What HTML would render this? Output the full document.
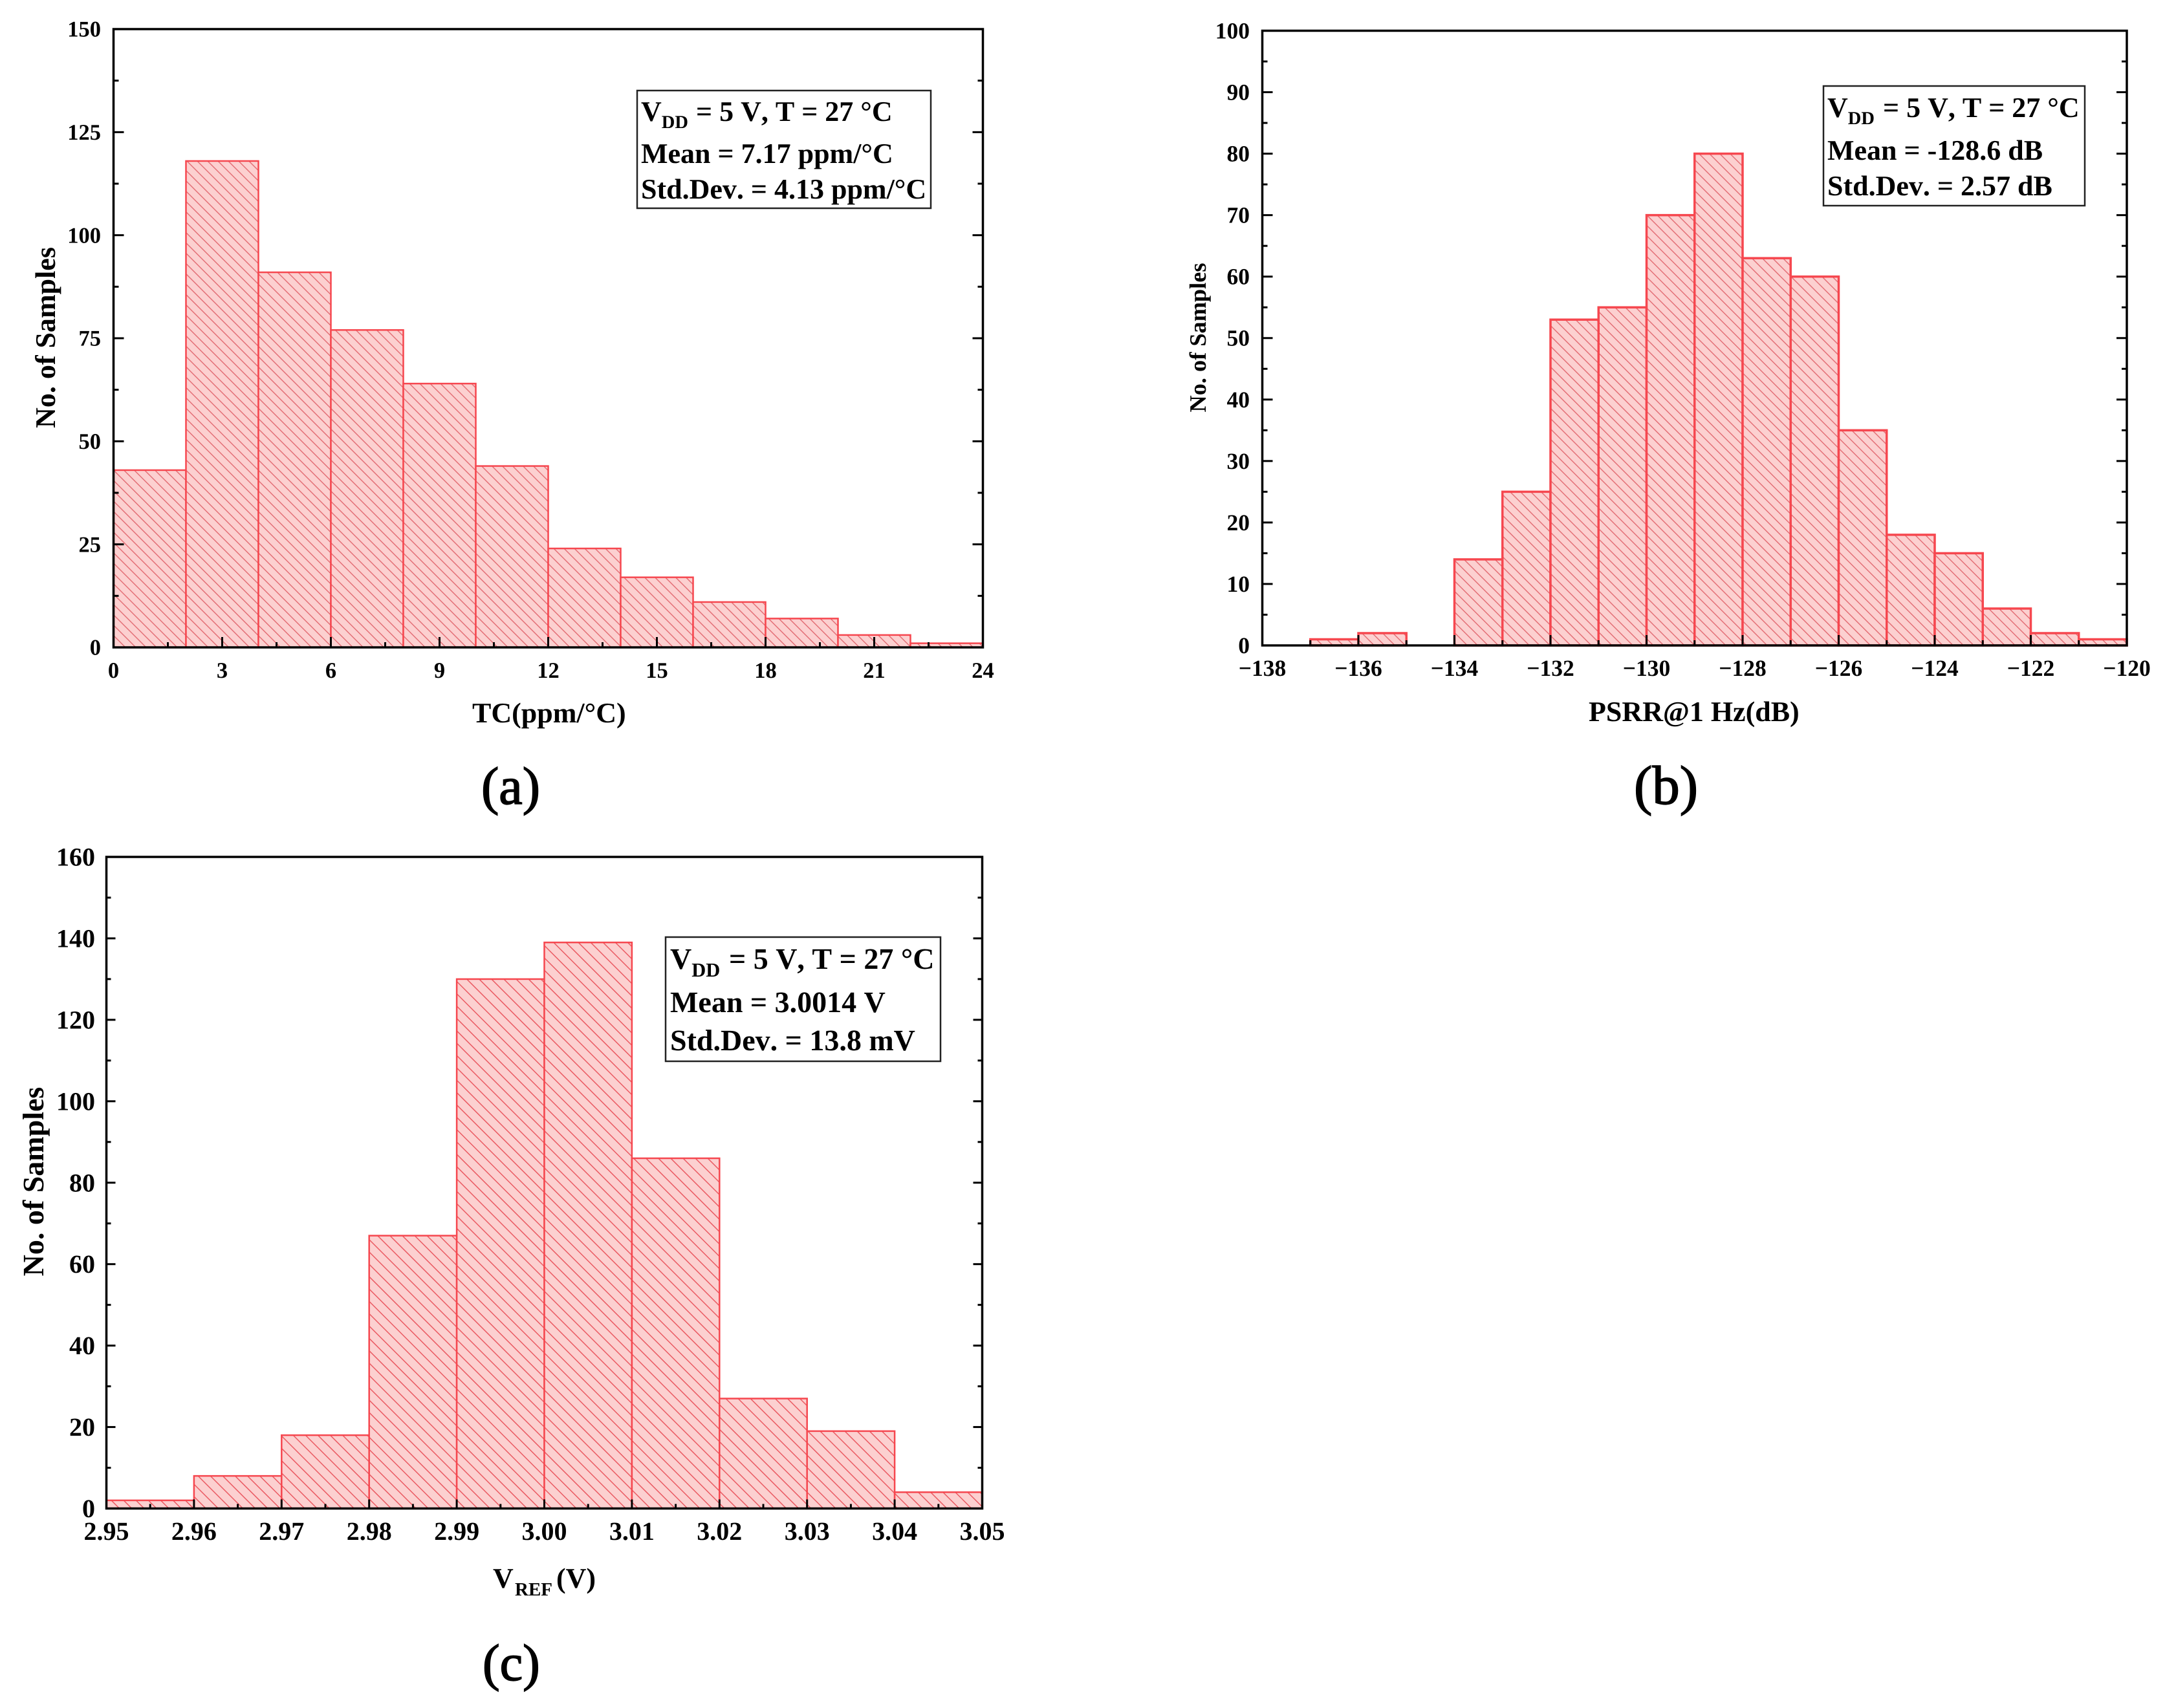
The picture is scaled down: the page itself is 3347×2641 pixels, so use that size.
<!DOCTYPE html>
<html lang="en">
<head>
<meta charset="utf-8">
<title>Monte Carlo histograms of TC, PSRR and VREF</title>
<style>
html,body{margin:0;padding:0;background:#fff;}
svg{display:block;}
text{font-family:"Liberation Serif",serif;fill:#000;font-kerning:none;text-rendering:geometricPrecision;}
.bold{font-weight:700;}
.panel{stroke:#000;stroke-width:1.6;}
</style>
</head>
<body>
<svg id="figure" xmlns="http://www.w3.org/2000/svg" width="3347" height="2641" viewBox="0 0 3347 2641">
<defs>
<pattern id="hatch-a" patternUnits="userSpaceOnUse" width="11.3" height="11.3" patternTransform="rotate(45)"><rect width="11.3" height="11.3" fill="#fcd0d0"/><rect y="5" width="11.3" height="1.4" fill="#e26a72"/></pattern>
<pattern id="hatch-b" patternUnits="userSpaceOnUse" width="11.3" height="11.3" patternTransform="rotate(45)"><rect width="11.3" height="11.3" fill="#fcd0d0"/><rect y="5" width="11.3" height="1.4" fill="#e26a72"/></pattern>
<pattern id="hatch-c" patternUnits="userSpaceOnUse" width="13.5" height="13.5" patternTransform="rotate(45)"><rect width="13.5" height="13.5" fill="#fcd0d0"/><rect y="6" width="13.5" height="1.5" fill="#ea5a62"/></pattern>
</defs>
<rect width="3347" height="2641" fill="#fff"/>

<g id="chart-a"></g>
<g id="chart-b"></g>
<g id="chart-c"></g>

<!-- Chart (a) text -->
<text class="bold" font-size="44" text-anchor="middle" transform="translate(85,522) rotate(-90)">No. of Samples</text>
<text class="bold" font-size="44" x="730" y="1117">TC(ppm/°C)</text>
<text class="panel" font-size="82" x="744" y="1243">(a)</text>
<g>
<rect x="985" y="140" width="454" height="182" fill="#fff" stroke="#222" stroke-width="2.5"/>
<text class="bold" font-size="44" x="991" y="187">V<tspan font-size="28.5" dy="11">DD</tspan><tspan x="1076" dy="-11">= 5 V, T = 27 °C</tspan></text>
<text class="bold" font-size="44" x="991" y="252">Mean = 7.17 ppm/°C</text>
<text class="bold" font-size="44" x="991" y="307">Std.Dev. = 4.13 ppm/°C</text>
</g>

<!-- Chart (b) text -->
<text class="bold" font-size="36.3" text-anchor="middle" transform="translate(1864,522) rotate(-90)">No. of Samples</text>
<text class="bold" font-size="44" x="2456" y="1115">PSRR@1 Hz(dB)</text>
<text class="panel" font-size="85" x="2526" y="1243">(b)</text>
<g>
<rect x="2819" y="133" width="404" height="185" fill="#fff" stroke="#222" stroke-width="2.5"/>
<text class="bold" font-size="44" x="2825" y="181">V<tspan font-size="28.5" dy="11">DD</tspan><tspan x="2911" dy="-11">= 5 V, T = 27 °C</tspan></text>
<text class="bold" font-size="44" x="2825" y="247">Mean = -128.6 dB</text>
<text class="bold" font-size="44" x="2825" y="302">Std.Dev. = 2.57 dB</text>
</g>

<!-- Chart (c) text -->
<text class="bold" font-size="46" text-anchor="middle" transform="translate(67,1827) rotate(-90)">No. of Samples</text>
<text class="bold" font-size="44" x="762" y="2455">V<tspan font-size="29" x="796" dy="12">REF</tspan><tspan font-size="44" x="860" dy="-12">(V)</tspan></text>
<text class="panel" font-size="80" x="746" y="2598">(c)</text>
<g>
<rect x="1029" y="1449" width="425" height="192" fill="#fff" stroke="#222" stroke-width="2.5"/>
<text class="bold" font-size="46" x="1036" y="1498">V<tspan font-size="30.5" dy="12">DD</tspan><tspan x="1127" dy="-12">= 5 V, T = 27 °C</tspan></text>
<text class="bold" font-size="46" x="1036" y="1565">Mean = 3.0014 V</text>
<text class="bold" font-size="46" x="1036" y="1624">Std.Dev. = 13.8 mV</text>
</g>
</svg>

<script>
// ---- Chart (a): TC histogram data ----
const tcBinStarts = [0, 2, 4, 6, 8, 10, 12, 14, 16, 18, 20, 22];
const tcCounts = [43, 118, 91, 77, 64, 44, 24, 17, 11, 7, 3, 1];
const tcXTicks = [0, 3, 6, 9, 12, 15, 18, 21, 24];
const tcXTickLabels = ["0", "3", "6", "9", "12", "15", "18", "21", "24"];
const tcXMinorTicks = [1.5, 4.5, 7.5, 10.5, 13.5, 16.5, 19.5, 22.5];
const tcYTicks = [0, 25, 50, 75, 100, 125, 150];
const tcYTickLabels = ["0", "25", "50", "75", "100", "125", "150"];
const tcYMinorTicks = [12.5, 37.5, 62.5, 87.5, 112.5, 137.5];

// ---- Chart (b): PSRR histogram data ----
const psrrBinStarts = [-137, -136, -135, -134, -133, -132, -131, -130, -129, -128, -127, -126, -125, -124, -123, -122, -121];
const psrrCounts = [1, 2, 0, 14, 25, 53, 55, 70, 80, 63, 60, 35, 18, 15, 6, 2, 1];
const psrrXTicks = [-138, -136, -134, -132, -130, -128, -126, -124, -122, -120];
const psrrXTickLabels = ["\u2212138", "\u2212136", "\u2212134", "\u2212132", "\u2212130", "\u2212128", "\u2212126", "\u2212124", "\u2212122", "\u2212120"];
const psrrXMinorTicks = [-137, -135, -133, -131, -129, -127, -125, -123, -121];
const psrrYTicks = [0, 10, 20, 30, 40, 50, 60, 70, 80, 90, 100];
const psrrYTickLabels = ["0", "10", "20", "30", "40", "50", "60", "70", "80", "90", "100"];
const psrrYMinorTicks = [5, 15, 25, 35, 45, 55, 65, 75, 85, 95];

// ---- Chart (c): VREF histogram data ----
const vrefBinStarts = [2.95, 2.96, 2.97, 2.98, 2.99, 3.00, 3.01, 3.02, 3.03, 3.04];
const vrefCounts = [2, 8, 18, 67, 130, 139, 86, 27, 19, 4];
const vrefXTicks = [2.95, 2.96, 2.97, 2.98, 2.99, 3.00, 3.01, 3.02, 3.03, 3.04, 3.05];
const vrefXTickLabels = ["2.95", "2.96", "2.97", "2.98", "2.99", "3.00", "3.01", "3.02", "3.03", "3.04", "3.05"];
const vrefXMinorTicks = [2.955, 2.965, 2.975, 2.985, 2.995, 3.005, 3.015, 3.025, 3.035, 3.045];
const vrefYTicks = [0, 20, 40, 60, 80, 100, 120, 140, 160];
const vrefYTickLabels = ["0", "20", "40", "60", "80", "100", "120", "140", "160"];
const vrefYMinorTicks = [10, 30, 50, 70, 90, 110, 130, 150];

const SVG_NS = "http://www.w3.org/2000/svg";

function shape(parent, tag, attrs) {
  const el = document.createElementNS(SVG_NS, tag);
  for (const k in attrs) el.setAttribute(k, attrs[k]);
  parent.appendChild(el);
  return el;
}

function drawHistogram(o) {
  const root = document.getElementById(o.id);
  const xScale = v => o.left + (v - o.xMin) / (o.xMax - o.xMin) * (o.right - o.left);
  const yScale = v => o.bottom - (v - o.yMin) / (o.yMax - o.yMin) * (o.bottom - o.top);

  // bars
  o.binStarts.forEach((start, i) => {
    if (o.counts[i] === 0) return;
    const x0 = xScale(start);
    const x1 = xScale(start + o.binWidth);
    const y = yScale(o.counts[i]);
    const bar = shape(root, "rect", {
      x: x0, y: y, width: x1 - x0, height: yScale(0) - y,
      fill: "url(#" + o.hatch + ")", stroke: "#f6474f", "stroke-width": o.barStroke
    });
    
    
  });

  // plot frame
  const frame = shape(root, "rect", {
    x: o.left, y: o.top, width: o.right - o.left, height: o.bottom - o.top,
    fill: "none", stroke: "#000", "stroke-width": o.axisWidth
  });
  
  

  // x ticks
  o.xTicks.forEach((v, i) => {
    const x = xScale(v);
    const tick = shape(root, "line", { x1: x, x2: x, y1: o.bottom, y2: o.bottom - o.majorLen, stroke: "#000", "stroke-width": 3 });
    
    
    const label = shape(root, "text", { x: x, y: o.xLabelY, "font-size": o.tickFont, "text-anchor": "middle", "font-weight": 700 });
    label.textContent = o.xLabels[i];
    
    
  });
  o.xMinor.forEach(v => {
    const x = xScale(v);
    const tick = shape(root, "line", { x1: x, x2: x, y1: o.bottom, y2: o.bottom - o.minorLen, stroke: "#000", "stroke-width": 3 });
    
    
  });

  // y ticks (left and right sides)
  o.yTicks.forEach((v, i) => {
    const y = yScale(v);
    const left = shape(root, "line", { x1: o.left, x2: o.left + o.majorLen, y1: y, y2: y, stroke: "#000", "stroke-width": 3 });
    
    
    const right = shape(root, "line", { x1: o.right, x2: o.right - o.majorLen, y1: y, y2: y, stroke: "#000", "stroke-width": 3 });
    
    
    const label = shape(root, "text", { x: o.yLabelX, y: y + o.tickFont * 0.338, "font-size": o.tickFont, "text-anchor": "end", "font-weight": 700 });
    label.textContent = o.yLabels[i];
    
    
  });
  o.yMinor.forEach(v => {
    const y = yScale(v);
    const left = shape(root, "line", { x1: o.left, x2: o.left + o.minorLen, y1: y, y2: y, stroke: "#000", "stroke-width": 3 });
    
    
    const right = shape(root, "line", { x1: o.right, x2: o.right - o.minorLen, y1: y, y2: y, stroke: "#000", "stroke-width": 3 });
    
    
  });
}

drawHistogram({
  id: "chart-a", hatch: "hatch-a", left: 175.5, right: 1519.5, top: 45, bottom: 1001,
  xMin: 0, xMax: 24, yMin: 0, yMax: 150, binWidth: 2,
  binStarts: tcBinStarts, counts: tcCounts,
  xTicks: tcXTicks, xLabels: tcXTickLabels, xMinor: tcXMinorTicks,
  yTicks: tcYTicks, yLabels: tcYTickLabels, yMinor: tcYMinorTicks,
  barStroke: 2.5, axisWidth: 3.5, majorLen: 16, minorLen: 8, tickFont: 34.5, xLabelY: 1048, yLabelX: 156
});

drawHistogram({
  id: "chart-b", hatch: "hatch-b", left: 1951.5, right: 3288, top: 47.5, bottom: 998,
  xMin: -138, xMax: -120, yMin: 0, yMax: 100, binWidth: 1,
  binStarts: psrrBinStarts, counts: psrrCounts,
  xTicks: psrrXTicks, xLabels: psrrXTickLabels, xMinor: psrrXMinorTicks,
  yTicks: psrrYTicks, yLabels: psrrYTickLabels, yMinor: psrrYMinorTicks,
  barStroke: 3.5, axisWidth: 3.5, majorLen: 16, minorLen: 8, tickFont: 35.5, xLabelY: 1045, yLabelX: 1932
});

drawHistogram({
  id: "chart-c", hatch: "hatch-c", left: 164.5, right: 1518.5, top: 1325, bottom: 2332.5,
  xMin: 2.95, xMax: 3.05, yMin: 0, yMax: 160, binWidth: 0.01,
  binStarts: vrefBinStarts, counts: vrefCounts,
  xTicks: vrefXTicks, xLabels: vrefXTickLabels, xMinor: vrefXMinorTicks,
  yTicks: vrefYTicks, yLabels: vrefYTickLabels, yMinor: vrefYMinorTicks,
  barStroke: 2.5, axisWidth: 3.5, majorLen: 14, minorLen: 7, tickFont: 40, xLabelY: 2381, yLabelX: 147
});
</script>
</body>
</html>
